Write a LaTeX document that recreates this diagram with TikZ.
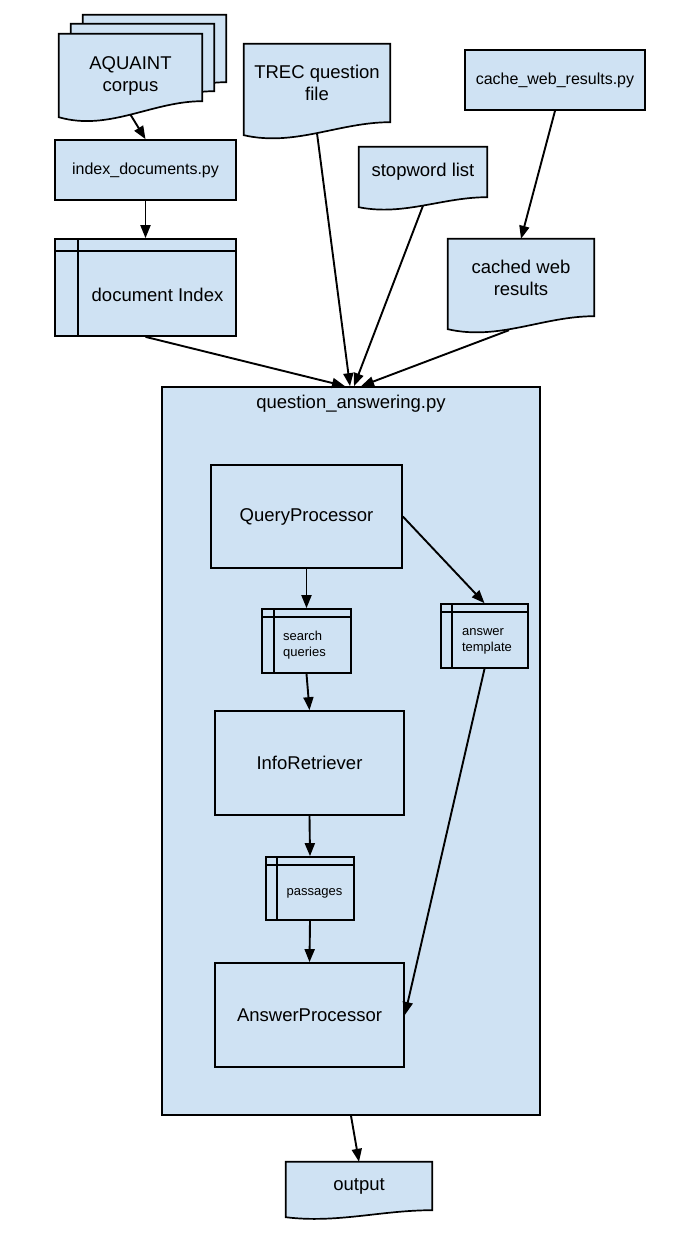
\documentclass[tikz,border=0pt]{standalone}
\usepackage{fontspec}
\setmainfont{Liberation Sans}
\usetikzlibrary{arrows.meta,positioning,backgrounds}
\definecolor{boxblue}{RGB}{207,226,243}
% document outline: node, rise of right corner, drop of left corner, width
\newcommand{\docoutline}[4]{%
  \draw[docline] (#1.north west) -- (#1.north east) -- ([yshift=#2pt]#1.south east)
    .. controls +(-0.35*#4,0) and +(0.35*#4,0.9*#2+0.9*#3) .. ([yshift=-#3pt]#1.south west) -- cycle;}

\begin{document}
\begin{tikzpicture}[x=1pt, y=-1pt,
    txtbig/.style={font=\fontsize{18.5}{22}\selectfont},
    txtmid/.style={font=\fontsize{16}{19}\selectfont},
    txtsmall/.style={font=\fontsize{13}{16}\selectfont},
    proc/.style={rectangle, draw, fill=boxblue, line width=1.7pt, inner sep=0pt, align=center, txtbig},
    doc/.style={rectangle, inner sep=0pt, minimum width=146pt, align=center, txtbig},
    docline/.style={draw, fill=boxblue, line width=1.7pt},
    store/.style 2 args={proc, path picture={
        \draw[line width=1.7pt] ([xshift=#1pt]path picture bounding box.north west) -- ([xshift=#1pt]path picture bounding box.south west);
        \draw[line width=1.7pt] ([yshift=-#2pt]path picture bounding box.north west) -- ([yshift=-#2pt]path picture bounding box.north east);}},
    flow/.style={-{Triangle[length=13pt,width=10pt]}, line width=1.9pt}
]
    \useasboundingbox (0,0) rectangle (690,1247);

    % inputs
    \node[doc, minimum width=143pt, minimum height=83pt] (aq3) at (154.5,56.5) {};
    \node[doc, minimum width=143pt, minimum height=83pt] (aq2) at (142.5,65.5) {};
    \node[doc, minimum width=143pt, minimum height=83pt] (aq) at (130.5,75.5) {AQUAINT\\corpus};
    \node[proc, txtmid, minimum width=181pt, minimum height=60pt] (idx) at (145.5,170) {index\_documents.py};
    \node[store={23}{12}, minimum width=181pt, minimum height=97pt,
          label={[txtbig, shift={(12,7.5)}]center:document Index}] (dbi) at (145.5,287.5) {};
    \node[doc, minimum height=78pt] (trec) at (317,83) {TREC question\\file};
    \node[doc, minimum width=128pt, minimum height=50pt] (stop) at (423,172) {stopword list};
    \node[proc, txtmid, minimum width=180pt, minimum height=60pt] (cws) at (555,80) {cache\_web\_results.py};
    \node[doc, minimum height=77pt] (cwr) at (521,277.5) {cached web\\results};

    % main program
    \node[proc, minimum width=378pt, minimum height=728pt,
          label={[txtbig, anchor=north, inner sep=0pt, yshift=-8.5pt]north:question\_answering.py}] (qa) at (351,751) {};
    \node[proc, minimum width=191pt, minimum height=103pt] (qp) at (306.5,516.5) {QueryProcessor};
    \node[store={12}{8}, minimum width=89pt, minimum height=64pt,
          label={[txtsmall, align=left, shift={(-2,4)}]center:search\\queries}] (sq) at (306.5,641) {};
    \node[store={11}{8}, minimum width=87pt, minimum height=64pt,
          label={[txtsmall, align=left, shift={(2.5,5)}]center:answer\\template}] (tmpl) at (484.5,636) {};
    \node[proc, minimum width=189pt, minimum height=104pt] (ir) at (309.5,763) {InfoRetriever};
    \node[store={11}{8}, minimum width=88pt, minimum height=63pt,
          label={[txtsmall, shift={(4.5,4.5)}]center:passages}] (pas) at (310,888.5) {};
    \node[proc, minimum width=189pt, minimum height=104pt] (ap) at (309.5,1015) {AnswerProcessor};
    \node[doc, minimum height=48pt] (out) at (359,1186) {output};

    \begin{scope}[on background layer]
        \docoutline{aq3}{16}{0}{143}
        \docoutline{aq2}{16}{0}{143}
        \docoutline{aq}{16}{0}{143}
        \docoutline{trec}{0}{13}{146}
        \docoutline{stop}{0}{10}{128}
        \docoutline{cwr}{0}{13}{146}
        \docoutline{out}{0}{7}{146}
    \end{scope}

    % connectors
    \draw[flow] ([yshift=2.5pt]aq.south) -- (idx.north);
    \draw[flow] (idx.south) -- (dbi.north);
    \draw[flow] (dbi.south) -- ([xshift=-6pt]qa.north);
    \draw[flow] ([yshift=-11pt]trec.south) -- ([xshift=-1pt]qa.north);
    \draw[flow] ([yshift=-8.5pt]stop.south) -- ([xshift=3pt]qa.north);
    \draw[flow] (cws.south) -- (cwr.north);
    \draw[flow] ([xshift=-12pt, yshift=-14pt]cwr.south) -- ([xshift=10pt]qa.north);
    \draw[flow] (qp.south) -- (sq.north);
    \draw[flow] (qp.east) -- (tmpl.north);
    \draw[flow] (sq.south) -- (ir.north);
    \draw[flow] (ir.south) -- (pas.north);
    \draw[flow] (pas.south) -- (ap.north);
    \draw[flow] (tmpl.south) -- (ap.east);
    \draw[flow] (qa.south) -- (out.north);
\end{tikzpicture}
\end{document}
